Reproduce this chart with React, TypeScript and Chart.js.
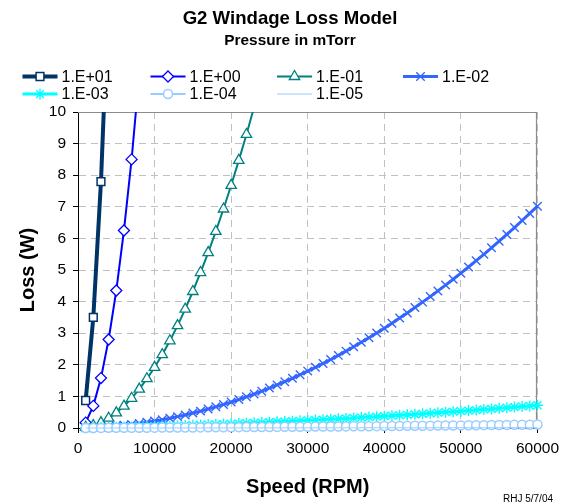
import React, { useEffect, useRef } from 'react';
import { Chart, registerables } from 'chart.js';
import { drawPoint } from 'chart.js/helpers';

Chart.register(...registerables);

// ---------------- data ----------------
const speeds = [
  1000, 2000, 3000, 4000, 5000, 6000, 7000, 8000, 9000, 10000,
  11000, 12000, 13000, 14000, 15000, 16000, 17000, 18000, 19000, 20000,
  21000, 22000, 23000, 24000, 25000, 26000, 27000, 28000, 29000, 30000,
  31000, 32000, 33000, 34000, 35000, 36000, 37000, 38000, 39000, 40000,
  41000, 42000, 43000, 44000, 45000, 46000, 47000, 48000, 49000, 50000,
  51000, 52000, 53000, 54000, 55000, 56000, 57000, 58000, 59000, 60000,
];

const loss1E01 = [0.87, 3.5, 7.8, 13.9];

const loss1E00 = [0.17, 0.7, 1.58, 2.8, 4.35, 6.25, 8.5, 11.2];

const loss1Em01 = [
  0.02, 0.08, 0.17, 0.31, 0.48, 0.69, 0.94, 1.23, 1.56, 1.92,
  2.32, 2.76, 3.24, 3.76, 4.32, 4.92, 5.55, 6.22, 6.93, 7.68,
  8.47, 9.29, 10.16,
];

const loss1Em02 = [
  0.005, 0.014, 0.026, 0.042, 0.063, 0.086, 0.114, 0.146, 0.181, 0.22,
  0.263, 0.31, 0.36, 0.414, 0.473, 0.534, 0.6, 0.67, 0.743, 0.82,
  0.901, 0.986, 1.074, 1.166, 1.263, 1.362, 1.466, 1.574, 1.685, 1.8,
  1.919, 2.042, 2.168, 2.298, 2.433, 2.57, 2.712, 2.858, 3.007, 3.16,
  3.317, 3.478, 3.642, 3.81, 3.983, 4.158, 4.338, 4.522, 4.709, 4.9,
  5.095, 5.294, 5.496, 5.702, 5.913, 6.126, 6.344, 6.566, 6.791, 7.02,
];

const loss1Em03 = [
  0.004, 0.009, 0.013, 0.018, 0.023, 0.029, 0.035, 0.041, 0.047, 0.053,
  0.06, 0.067, 0.075, 0.082, 0.09, 0.098, 0.107, 0.115, 0.124, 0.133,
  0.143, 0.153, 0.163, 0.173, 0.183, 0.194, 0.205, 0.217, 0.228, 0.24,
  0.252, 0.265, 0.277, 0.29, 0.303, 0.317, 0.331, 0.345, 0.359, 0.373,
  0.388, 0.403, 0.419, 0.434, 0.45, 0.466, 0.483, 0.499, 0.516, 0.533,
  0.551, 0.569, 0.587, 0.605, 0.623, 0.642, 0.661, 0.681, 0.7, 0.72,
];

const loss1Em04 = [
  0.001, 0.002, 0.003, 0.004, 0.005, 0.006, 0.008, 0.009, 0.01, 0.011,
  0.013, 0.014, 0.015, 0.017, 0.018, 0.019, 0.021, 0.022, 0.024, 0.025,
  0.027, 0.028, 0.03, 0.032, 0.033, 0.035, 0.037, 0.038, 0.04, 0.042,
  0.044, 0.046, 0.047, 0.049, 0.051, 0.053, 0.055, 0.057, 0.059, 0.061,
  0.063, 0.065, 0.068, 0.07, 0.072, 0.074, 0.076, 0.079, 0.081, 0.083,
  0.086, 0.088, 0.09, 0.093, 0.095, 0.098, 0.1, 0.103, 0.105, 0.108,
];

const loss1Em05 = [
  0.0, 0.0, 0.0, 0.0, 0.001, 0.001, 0.001, 0.001, 0.001, 0.001,
  0.001, 0.001, 0.002, 0.002, 0.002, 0.002, 0.002, 0.002, 0.002, 0.003,
  0.003, 0.003, 0.003, 0.003, 0.003, 0.004, 0.004, 0.004, 0.004, 0.004,
  0.004, 0.005, 0.005, 0.005, 0.005, 0.005, 0.006, 0.006, 0.006, 0.006,
  0.006, 0.007, 0.007, 0.007, 0.007, 0.008, 0.008, 0.008, 0.008, 0.009,
  0.009, 0.009, 0.009, 0.01, 0.01, 0.01, 0.01, 0.011, 0.011, 0.011,
];

const seriesLabels = ['1.E+01', '1.E+00', '1.E-01', '1.E-02', '1.E-03', '1.E-04', '1.E-05'];
const seriesValues = [loss1E01, loss1E00, loss1Em01, loss1Em02, loss1Em03, loss1Em04, loss1Em05];

const titleText = 'G2 Windage Loss Model';
const subtitleText = 'Pressure in mTorr';
const xTitle = 'Speed (RPM)';
const yTitle = 'Loss (W)';
const creditText = 'RHJ 5/7/04';

// ---------------- styles ----------------
const FONT = '"Liberation Sans", Arial, Helvetica, sans-serif';

type Style = { color: string; width: number; point: any; r: number; pw: number; fill: string };
const styles: Style[] = [
  { color: '#003366', width: 4, point: 'rect', r: 5.5, pw: 1.5, fill: '#ffffff' },
  { color: '#0000ff', width: 2, point: 'rectRot', r: 5.5, pw: 1.3, fill: '#ffffff' },
  { color: '#008080', width: 2, point: 'triangle', r: 6, pw: 1.3, fill: '#ffffff' },
  { color: '#3366ff', width: 3, point: 'crossRot', r: 6, pw: 1.4, fill: '#3366ff' },
  { color: '#00ffff', width: 3, point: 'star', r: 5.5, pw: 1.4, fill: '#00ffff' },
  { color: '#99ccff', width: 2, point: 'circle', r: 4.5, pw: 1.5, fill: '#ffffff' },
  { color: '#99ccff', width: 1, point: false, r: 0, pw: 0, fill: '#99ccff' },
];

const LEG_X = [22.5, 150.5, 277, 403];
const LEG_Y = [76.5, 94];
const LEG_LEN = 35;

const decorPlugin = {
  id: 'decor',
  beforeDatasetsDraw(chart: any) {
    const { ctx, chartArea } = chart;
    const xs = chart.scales.x;
    const ys = chart.scales.y;
    const top = Math.round(ys.getPixelForValue(10)) + 0.5;
    const right = Math.round(xs.getPixelForValue(60000)) - 0.5;
    ctx.save();
    ctx.strokeStyle = '#8c8c8c';
    ctx.lineWidth = 1.2;
    ctx.setLineDash([]);
    ctx.beginPath();
    ctx.moveTo(chartArea.left, top);
    ctx.lineTo(right, top);
    ctx.lineTo(right, chartArea.bottom);
    ctx.stroke();
    ctx.restore();
  },
  afterDraw(chart: any) {
    const { ctx } = chart;
    ctx.save();
    ctx.fillStyle = '#000';
    ctx.textAlign = 'center';
    ctx.textBaseline = 'middle';
    ctx.font = `bold 18.6px ${FONT}`;
    ctx.fillText(titleText, 290, 19);
    ctx.font = `bold 15.4px ${FONT}`;
    ctx.fillText(subtitleText, 290, 41);

    ctx.textAlign = 'left';
    ctx.font = `10px ${FONT}`;
    ctx.fillText(creditText, 503, 499);

    // legend
    chart.data.datasets.forEach((ds: any, i: number) => {
      const col = i % 4;
      const row = Math.floor(i / 4);
      const x0 = LEG_X[col];
      const y = LEG_Y[row];
      const st = styles[i];
      ctx.setLineDash([]);
      ctx.strokeStyle = st.color;
      ctx.lineWidth = st.width;
      ctx.lineCap = 'butt';
      ctx.beginPath();
      ctx.moveTo(x0, y);
      ctx.lineTo(x0 + LEG_LEN, y);
      ctx.stroke();
      if (st.point) {
        ctx.fillStyle = st.fill;
        ctx.strokeStyle = st.color;
        ctx.lineWidth = st.pw;
        drawPoint(ctx, { pointStyle: st.point, radius: st.r, borderWidth: st.pw, rotation: 0 }, x0 + LEG_LEN / 2, y);
      }
      ctx.fillStyle = '#000';
      ctx.font = `16px ${FONT}`;
      ctx.textAlign = 'left';
      ctx.textBaseline = 'middle';
      ctx.fillText(ds.label, x0 + LEG_LEN + 4, y + 1);
    });
    ctx.restore();
  },
};

export default function App() {
  const canvasRef = useRef<HTMLCanvasElement | null>(null);

  useEffect(() => {
    const canvas = canvasRef.current;
    if (!canvas) return;

    const datasets = seriesLabels.map((label, i) => {
      const st = styles[i];
      return {
        label,
        data: seriesValues[i].map((v, j) => ({ x: speeds[j], y: v })),
        borderColor: st.color,
        backgroundColor: st.fill,
        borderWidth: st.width,
        pointStyle: st.point,
        pointRadius: st.r,
        pointBorderWidth: st.pw,
        pointBorderColor: st.color,
        pointBackgroundColor: st.fill,
        tension: 0,
        fill: false,
        borderJoinStyle: 'round',
        order: seriesLabels.length - i,
        clip: { left: 6, right: 8, top: 0, bottom: 8 },
      };
    });

    const chart = new Chart(canvas, {
      type: 'line',
      data: { datasets } as any,
      options: {
        animation: false,
        responsive: false,
        devicePixelRatio: 1,
        parsing: true,
        layout: { padding: { left: 0, right: 27, top: 112, bottom: 0 } },
        plugins: {
          legend: { display: false },
          title: { display: false },
          tooltip: { enabled: false },
        },
        scales: {
          x: {
            type: 'linear',
            min: 0,
            max: 60000,
            afterFit: (s: any) => { s.height = 76; },
            ticks: {
              stepSize: 10000,
              autoSkip: false,
              maxRotation: 0,
              padding: 6,
              color: '#000',
              font: { family: FONT, size: 15.5 },
              callback: (v: any) => String(v),
            },
            grid: {
              color: '#c0c0c0',
              lineWidth: 1,
              tickColor: '#000',
              tickLength: 5,
              tickBorderDash: [],
            },
            border: { display: true, color: '#000', width: 1, dash: [7, 5] },
            title: {
              display: true,
              text: xTitle,
              color: '#000',
              font: { family: FONT, size: 20, weight: 'bold' },
              padding: { top: 0, bottom: 5 },
            },
          },
          y: {
            type: 'linear',
            min: 0,
            max: 10,
            afterFit: (s: any) => { s.width = 78; },
            ticks: {
              stepSize: 1,
              padding: 7,
              color: '#000',
              font: { family: FONT, size: 15.5 },
            },
            grid: {
              color: '#c0c0c0',
              lineWidth: 1,
              tickColor: '#000',
              tickLength: 5,
              tickBorderDash: [],
            },
            border: { display: true, color: '#000', width: 1, dash: [7, 5] },
            title: {
              display: true,
              text: yTitle,
              color: '#000',
              font: { family: FONT, size: 20, weight: 'bold' },
              padding: { top: 16, bottom: 0 },
            },
          },
        },
      } as any,
      plugins: [decorPlugin],
    });

    return () => chart.destroy();
  }, []);

  return (
    <div style={{ position: 'fixed', left: 0, top: 0, width: 565, height: 504, background: '#fff' }}>
      <canvas ref={canvasRef} width={565} height={504} style={{ display: 'block', width: 565, height: 504 }} />
    </div>
  );
}
